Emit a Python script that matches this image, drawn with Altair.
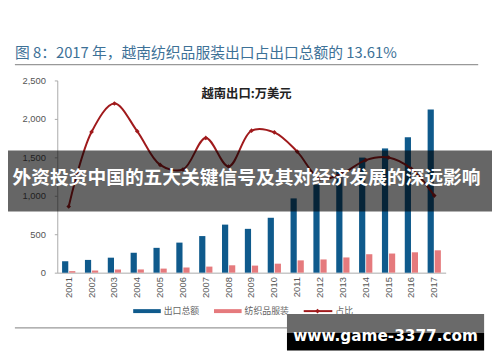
import altair as alt
import pandas as pd

years = [str(y) for y in range(2001, 2018)]
total_exports = [150, 166, 195, 259, 323, 391, 476, 625, 570, 714, 966, 1145, 1320, 1497, 1616, 1760, 2121]
textile_exports = [20, 28, 41, 42, 53, 66, 79, 96, 92, 117, 160, 172, 198, 240, 249, 265, 291]
share = [0.131, 0.1659, 0.1792, 0.1662, 0.1505, 0.1483, 0.1631, 0.1497, 0.1665, 0.1657,
         0.1567, 0.1440, 0.1466, 0.1527, 0.1539, 0.1486, 0.1361]
series_names = ["出口总额", "纺织品服装"]
share_name = "占比"

title_text = "图 8：2017 年，越南纺织品服装出口占出口总额的 13.61%"
inner_title = "越南出口:万美元"
banner_text = "外资投资中国的五大关键信号及其对经济发展的深远影响"
watermark = "www.game-3377.com"

BLUE = "#0f5a8c"
PINK = "#e57a7d"
RED = "#a01a1c"
LATIN = "Liberation Sans"
CJK = "Noto Sans CJK SC"

bars_df = pd.DataFrame({
    "year": years * 2,
    "series": [series_names[0]] * len(years) + [series_names[1]] * len(years),
    "value": total_exports + textile_exports,
})
line_df = pd.DataFrame({"year": years, "share": share})
one = pd.DataFrame({"k": [0]})

xscale = alt.Scale(paddingInner=0.42, paddingOuter=0.21)
xaxis = alt.Axis(labelAngle=270, labelAlign="right", labelBaseline="middle", labelPadding=4,
                 ticks=False, domainColor="#aaaaaa", labelColor="#555555", labelFont=LATIN,
                 labelFontSize=9.5, title=None, grid=False)

bars = alt.Chart(bars_df).mark_bar().encode(
    x=alt.X("year:N", scale=xscale, axis=xaxis),
    xOffset=alt.XOffset("series:N", sort=series_names, scale=alt.Scale(paddingInner=0.12)),
    y=alt.Y("value:Q", scale=alt.Scale(domain=[0, 2500], nice=False),
            axis=alt.Axis(orient="left", values=[0, 500, 1000, 1500, 2000, 2500], format=",.0f",
                          grid=False, tickSize=3, labelPadding=9, domainColor="#aaaaaa",
                          tickColor="#aaaaaa", labelColor="#555555", labelFont=LATIN,
                          labelFontSize=9.5, title=None)),
    color=alt.Color("series:N", scale=alt.Scale(domain=series_names, range=[BLUE, PINK]), legend=None),
)

right_axis = alt.Axis(orient="right", values=[0.10, 0.11, 0.12, 0.13, 0.14, 0.15, 0.16, 0.17, 0.18, 0.19],
                      format=".0%", grid=False, tickSize=3, labelPadding=7, domainColor="#aaaaaa",
                      tickColor="#aaaaaa", labelColor="#555555", labelFont=LATIN,
                      labelFontSize=9.5, title=None)
yright = alt.Y("share:Q", scale=alt.Scale(domain=[0.10, 0.19], nice=False, zero=False), axis=right_axis)

line = alt.Chart(line_df).mark_line(color=RED, strokeWidth=2, interpolate="catmull-rom").encode(
    x=alt.X("year:N"), y=yright)
pts = alt.Chart(line_df).mark_point(color=RED, filled=True, shape="diamond", size=22, opacity=1).encode(
    x=alt.X("year:N"), y=alt.Y("share:Q", axis=None, scale=alt.Scale(domain=[0.10, 0.19], nice=False, zero=False)))

line_layer = alt.layer(line, pts)

def txt(s, x, y, size, color, font, weight="normal", align="left"):
    return alt.Chart(one).mark_text(align=align, baseline="middle", fontSize=size, color=color,
                                    font=font, fontWeight=weight).encode(
        x=alt.value(x), y=alt.value(y), text=alt.value(s))

def rect(x1, x2, y1, y2, color, opacity=1.0):
    return alt.Chart(one).mark_rect(color=color, opacity=opacity).encode(
        x=alt.value(x1), x2=alt.value(x2), y=alt.value(y1), y2=alt.value(y2))

def hline(x1, x2, y, color, width=1.0):
    return alt.Chart(one).mark_rule(color=color, strokeWidth=width).encode(
        x=alt.value(x1), x2=alt.value(x2), y=alt.value(y))

LEG_Y = 234
deco = [
    txt(title_text, -43, -28, 15, "#3d7197", CJK),
    hline(-43, 427, -16, "#999999", 1.2),
    txt(inner_title, 192, 14, 12.5, "#222222", CJK, weight="bold", align="center"),
    # legend
    rect(77, 105, LEG_Y - 2, LEG_Y + 2, BLUE),
    txt(series_names[0], 108, LEG_Y, 9, "#666666", CJK),
    rect(159, 187, LEG_Y - 2, LEG_Y + 2, PINK),
    txt(series_names[1], 190, LEG_Y, 9, "#666666", CJK),
    hline(250, 279, LEG_Y, RED, 2),
    alt.Chart(one).mark_point(color=RED, filled=True, shape="diamond", size=22, opacity=1).encode(
        x=alt.value(264), y=alt.value(LEG_Y)),
    txt(share_name, 282, LEG_Y, 9, "#666666", CJK),
    hline(-43, 427, 251, "#999999", 1.2),
    # banner overlay
    rect(-58, 442, 71, 133, "#000000", 0.6),
    txt(banner_text, 192, 99, 19, "#ffffff", CJK, weight="bold", align="center"),
    # watermark
    rect(233, 433, 237, 256, "#6a6a6a"),
    rect(233, 433, 256, 274, "#000000"),
    txt(watermark, 333, 259, 15.5, "#ffffff", "DejaVu Sans", weight="bold", align="center"),
]

chart = alt.layer(bars, line_layer, *deco).resolve_scale(y="independent").properties(
    width=394, height=195,
    autosize=alt.AutoSizeParams(type="none"),
    padding={"left": 50, "top": 71, "right": 47, "bottom": 80},
).configure_view(stroke=None)

chart.save("out.html", embed_options={"renderer": "svg", "actions": False})
